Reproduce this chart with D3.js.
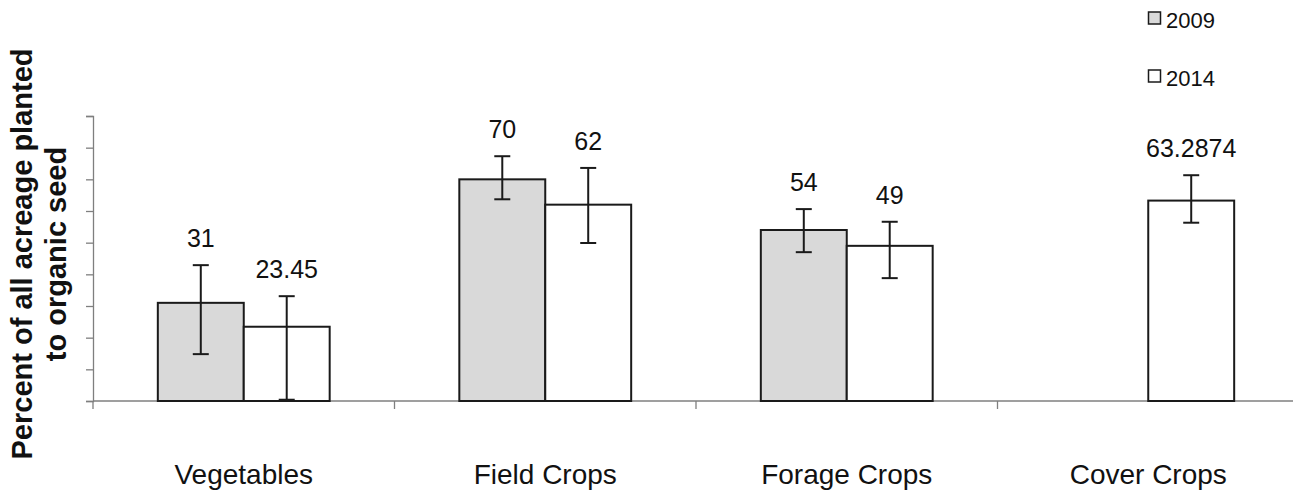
<!DOCTYPE html>
<html>
<head>
<meta charset="utf-8">
<script src="https://cdn.jsdelivr.net/npm/d3@7"></script>
<style>
  html, body { margin: 0; padding: 0; background: #fff; }
  svg { display: block; font-family: "Liberation Sans", Arial, sans-serif; }
</style>
</head>
<body>
<svg id="chart" width="1293" height="493"></svg>
<script>
// ---- data ----
const categories = ["Vegetables", "Field Crops", "Forage Crops", "Cover Crops"];
const seriesNames = ["2009", "2014"];
const values2009 = [31, 70, 54, null];
const values2014 = [23.45, 62, 49, 63.2874];
const labels2009 = ["31", "70", "54", null];
const labels2014 = ["23.45", "62", "49", "63.2874"];
const errLow2009 = [14.8, 63.7, 47.0, null];
const errHigh2009 = [42.9, 77.3, 60.6, null];
const errLow2014 = [0.4, 49.9, 38.8, 56.3];
const errHigh2014 = [33.1, 73.6, 56.6, 71.3];
const yTicks = [0, 10, 20, 30, 40, 50, 60, 70, 80, 90];

(function () {
const fills = { "2009": "#d9d9d9", "2014": "#ffffff" };

const svg = d3.select("#chart");
const pLeft = 93, pRight = 1299, pTop = 116, pBottom = 401;

const x = d3.scaleBand().domain(categories).range([pLeft, pRight])
  .paddingInner(0.43).paddingOuter(0.215);
const xs = d3.scaleBand().domain(seriesNames).range([0, x.bandwidth()]);
const y = d3.scaleLinear().domain([0, 90]).range([pBottom, pTop]);

// y axis
const yAxis = svg.append("g").attr("transform", `translate(${pLeft},0)`)
  .call(d3.axisLeft(y).tickValues(yTicks).tickSize(7).tickFormat(""));
yAxis.select(".domain").attr("stroke", "#7f7f7f").attr("stroke-width", 1.3);
yAxis.selectAll(".tick line").attr("stroke", "#7f7f7f").attr("stroke-width", 1.3);

// x axis with boundary ticks
const bounds = categories.map(c => x(c) - x.step() * x.paddingInner() / 2);
bounds[0] = pLeft;
bounds.push(pRight);
const xAxisG = svg.append("g");
xAxisG.append("line").attr("x1", pLeft).attr("x2", pRight)
  .attr("y1", y(0)).attr("y2", y(0))
  .attr("stroke", "#7f7f7f").attr("stroke-width", 1.3);
xAxisG.selectAll("line.bt").data(bounds).enter().append("line")
  .attr("class", "bt")
  .attr("x1", d => d).attr("x2", d => d)
  .attr("y1", y(0)).attr("y2", y(0) + 8)
  .attr("stroke", "#7f7f7f").attr("stroke-width", 1.3);

// build records
const recs = [];
categories.forEach((c, i) => {
  if (values2009[i] != null) recs.push({ c, s: "2009", v: values2009[i], lab: labels2009[i], lo: errLow2009[i], hi: errHigh2009[i] });
  if (values2014[i] != null) recs.push({ c, s: "2014", v: values2014[i], lab: labels2014[i], lo: errLow2014[i], hi: errHigh2014[i] });
});

// bars
svg.append("g").selectAll("rect").data(recs).enter().append("rect")
  .attr("x", d => x(d.c) + xs(d.s))
  .attr("y", d => y(d.v))
  .attr("width", xs.bandwidth())
  .attr("height", d => y(0) - y(d.v))
  .attr("fill", d => fills[d.s])
  .attr("stroke", "#1a1a1a")
  .attr("stroke-width", 2);

// error bars
const eg = svg.append("g").attr("stroke", "#1a1a1a").attr("stroke-width", 2);
recs.forEach(d => {
  const cx = x(d.c) + xs(d.s) + xs.bandwidth() / 2;
  eg.append("line").attr("x1", cx).attr("x2", cx).attr("y1", y(d.hi)).attr("y2", y(d.lo));
  eg.append("line").attr("x1", cx - 8).attr("x2", cx + 8).attr("y1", y(d.hi)).attr("y2", y(d.hi));
  eg.append("line").attr("x1", cx - 8).attr("x2", cx + 8).attr("y1", y(d.lo)).attr("y2", y(d.lo));
});

// value labels
svg.append("g").selectAll("text").data(recs).enter().append("text")
  .attr("x", d => x(d.c) + xs(d.s) + xs.bandwidth() / 2)
  .attr("y", d => y(d.hi) - 18)
  .attr("text-anchor", "middle")
  .attr("font-size", 25)
  .attr("fill", "#111")
  .text(d => d.lab);

// category labels
svg.append("g").selectAll("text").data(categories).enter().append("text")
  .attr("x", d => x(d) + x.bandwidth() / 2)
  .attr("y", 484)
  .attr("text-anchor", "middle")
  .attr("font-size", 28)
  .attr("fill", "#111")
  .text(d => d);

// y title
const yt = svg.append("text")
  .attr("transform", "translate(32,254) rotate(-90)")
  .attr("text-anchor", "middle")
  .attr("font-size", 29)
  .attr("font-weight", "bold")
  .attr("fill", "#111");
yt.append("tspan").attr("x", 0).attr("y", 0).text("Percent of all acreage planted");
yt.append("tspan").attr("x", 0).attr("y", 34).text("to organic seed");

// legend
const lg = svg.append("g");
seriesNames.forEach((s, i) => {
  const ly = 28 + i * 58;
  lg.append("rect").attr("x", 1148.5).attr("y", ly - 16).attr("width", 12).attr("height", 12)
    .attr("fill", fills[s]).attr("stroke", "#1a1a1a").attr("stroke-width", 1.5);
  lg.append("text").attr("x", 1166).attr("y", ly).attr("font-size", 22).attr("fill", "#111").text(s);
});
})();
</script>
</body>
</html>
